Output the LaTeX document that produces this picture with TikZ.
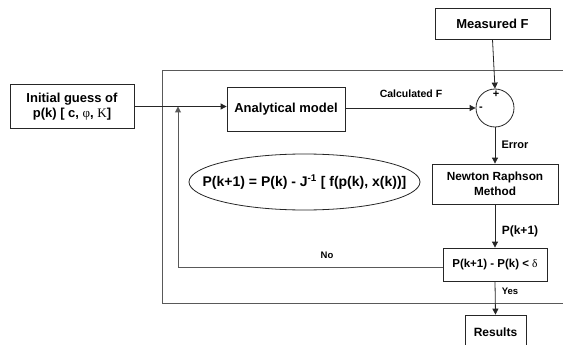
\documentclass[tikz,border=0pt]{standalone}
\usepackage{fontspec}
\setmainfont{Liberation Sans}
\newfontfamily\serifgr{Liberation Serif}
\usetikzlibrary{arrows.meta,shapes.geometric}
\begin{document}
\begin{tikzpicture}[x=1pt,y=-1pt,
  box/.style={draw=black!85,line width=0.8pt,inner sep=0pt,align=center,font=\bfseries\fontsize{13}{15.5}\selectfont},
  lbl/.style={inner sep=0pt,font=\bfseries\fontsize{10.5}{12}\selectfont},
  arr/.style={draw=black!85,line width=0.8pt,-{Triangle[length=6pt,width=6pt]}},
  frame/.style={draw=black!65,line width=1pt}]
\useasboundingbox (0,0) rectangle (563,345);
\clip (0,0) rectangle (563,345);
% outer frame (open to the right)
\draw[frame] (570,71) -- (162,71) -- (162,303) -- (570,303);
% nodes
\node[box,minimum width=124pt,minimum height=44pt] (init) at (72,106.5) {Initial guess of\\p(k) [ c, {\serifgr\mdseries φ}, {\serifgr\mdseries K}]};
\node[box,minimum width=118pt,minimum height=44pt] (anal) at (286,109) {Analytical model};
\node[box,minimum width=115pt,minimum height=31pt] (meas) at (492.5,23.5) {Measured F};
\node[draw=black!85,line width=0.8pt,circle,minimum size=38pt,inner sep=0pt] (circ) at (495,108) {};
\node[box,minimum width=126pt,minimum height=40pt,font=\bfseries\fontsize{11.8}{14.5}\selectfont] (newt) at (495,184) {Newton Raphson\\Method};
\node[box,minimum width=104pt,minimum height=33pt,font=\bfseries\fontsize{11.5}{14}\selectfont] (cond) at (495,264.5) {P(k+1) - P(k) < {\serifgr\mdseries δ}};
\node[box,minimum width=61pt,minimum height=34pt,font=\bfseries\fontsize{12}{14}\selectfont] (res) at (495.5,332) {Results};
\node[draw=black!85,line width=0.8pt,ellipse,minimum width=231pt,minimum height=56pt,inner sep=0pt] (eq) at (304.5,182) {};
\node[inner sep=0pt,font=\bfseries\fontsize{14}{16}\selectfont] (eqtext) at (eq.center) {P(k+1) = P(k) - J\textsuperscript{-1} [ f(p(k), x(k))]};
% signs
\node[lbl,font=\bfseries\fontsize{11}{12}\selectfont] (plus) at (496,94) {+};
\node[lbl,font=\bfseries\fontsize{11}{12}\selectfont] (minus) at (481,109) {-};
% connectors
\draw[arr] (init.east) -- (init.east -| anal.west);
\draw[arr] (anal.east |- circ.west) -- (circ.west);
\draw[arr] (meas.south) -- (circ.north);
\draw[arr] (circ.south) -- (newt.north);
\draw[arr] (newt.south) -- (cond.north);
\draw[arr] (cond.south) -- (res.north);
\coordinate (fb) at (178,267);
\draw[arr,draw=black!65,line width=1pt] (cond.west |- fb) -- (fb) -- (fb |- init.east);
% labels
\node[lbl] (lcalc) at (411,94) {Calculated F};
\node[lbl,font=\bfseries\fontsize{11}{12}\selectfont] (lerr) at (515,145) {Error};
\node[lbl,font=\bfseries\fontsize{12}{14}\selectfont] (lpk) at (520,231) {P(k+1)};
\node[lbl,font=\bfseries\fontsize{9.5}{11}\selectfont] (lno) at (327,255) {No};
\node[lbl,font=\bfseries\fontsize{9.5}{11}\selectfont] (lyes) at (510,291) {Yes};
\end{tikzpicture}
\end{document}
